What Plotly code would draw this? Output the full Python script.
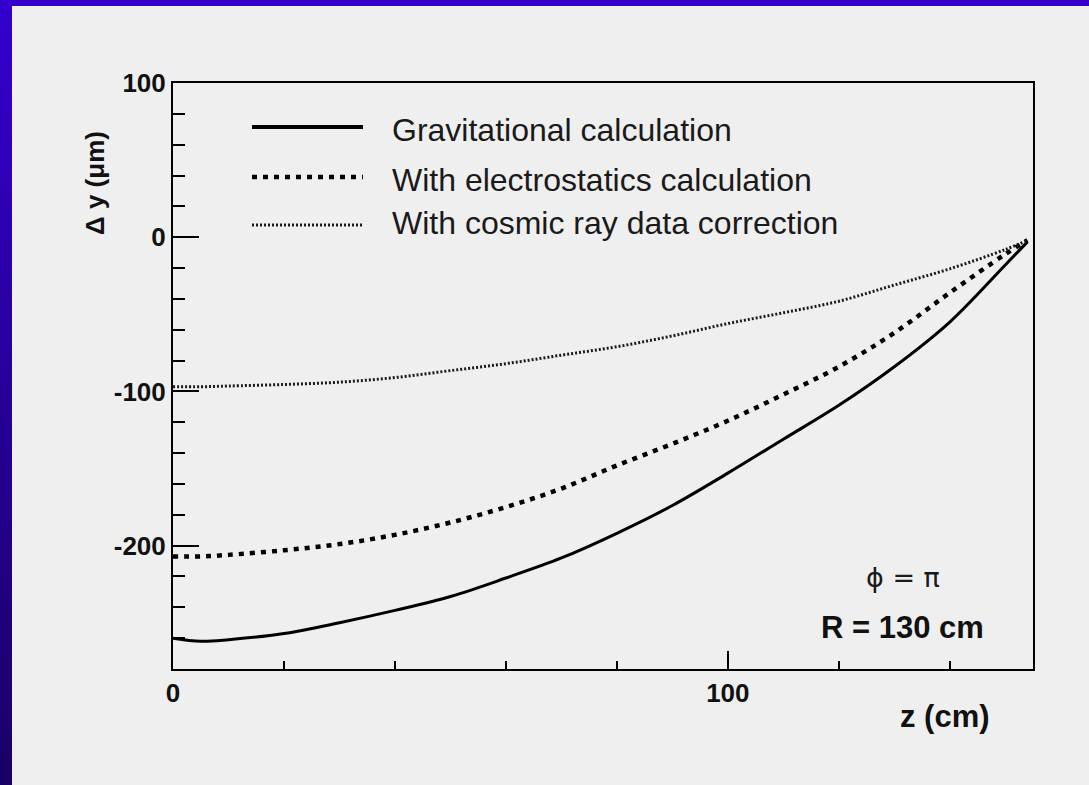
import plotly.graph_objects as go

# ---------------- data ----------------
z_cm = [0, 5, 10, 20, 30, 40, 50, 60, 70, 80, 90, 100, 110, 120, 130, 140, 150, 154]
dy_gravitational = [-260, -262, -261, -257, -250, -242, -233, -221, -208, -192, -174, -153, -131, -109, -84, -55, -18, -3]
dy_electrostatic = [-207, -207, -206, -203, -199, -193, -185, -175, -163, -148, -134, -119, -102, -84, -62, -36, -11, -2]
dy_cosmic = [-97, -97, -96.5, -95.5, -94, -91, -86.5, -82, -76.5, -71, -64, -56, -49, -41.5, -31, -20.5, -8, -2]

series_names = [
    "Gravitational calculation",
    "With electrostatics calculation",
    "With cosmic ray data correction",
]
y_tick_vals = [-200, -100, 0, 100]
y_tick_text = ["-200", "-100", "0", "100"]
x_tick_vals = [0, 100]
x_tick_text = ["0", "100"]

# ---------------- layout helpers ----------------
W, H = 1089, 785
L, R, T, B = 173, 1033, 83, 669  # plot area in pixels


def px(x):
    return (x - L) / (R - L)


def py(y):
    return (B - y) / (B - T)


FONT = "Liberation Sans, Arial, Helvetica, sans-serif"
styles = [
    dict(color="black", width=3, dash="solid"),
    dict(color="black", width=4.5, dash="5px,6px"),
    dict(color="#1a1a1a", width=3, dash="2px,2px"),
]

fig = go.Figure()
for name, ys, st in zip(series_names, [dy_gravitational, dy_electrostatic, dy_cosmic], styles):
    fig.add_trace(go.Scatter(x=z_cm, y=ys, mode="lines", name=name, line=st,
                             line_shape="spline", showlegend=False))

shapes = []
# blue frame: top strip + left strip with vertical gradient
shapes.append(dict(type="rect", xref="paper", yref="paper", x0=px(0), x1=px(W), y0=py(0), y1=py(6),
                   fillcolor="#3300cc", line=dict(width=0), layer="below"))
nb = 30
c0 = (0x33, 0x00, 0xcc)
c1 = (0x1a, 0x00, 0x66)
for i in range(nb):
    f = i / (nb - 1)
    col = "rgb(%d,%d,%d)" % tuple(round(a + (b - a) * f) for a, b in zip(c0, c1))
    y0 = 6 + (H - 6) * i / nb
    y1 = 6 + (H - 6) * (i + 1) / nb + 1
    shapes.append(dict(type="rect", xref="paper", yref="paper", x0=px(0), x1=px(12), y0=py(y0), y1=py(y1),
                       fillcolor=col, line=dict(width=0), layer="below"))

# legend samples
leg_y = [127, 177, 225]
leg_text_y = [130, 180, 223]
leg_styles = [
    dict(color="black", width=4, dash="solid"),
    dict(color="black", width=4.5, dash="5px,6px"),
    dict(color="#1a1a1a", width=3, dash="2px,2px"),
]
for yy, st in zip(leg_y, leg_styles):
    shapes.append(dict(type="line", xref="paper", yref="paper", x0=px(252), x1=px(363), y0=py(yy), y1=py(yy),
                       line=st))

annotations = []
for name, yy in zip(series_names, leg_text_y):
    annotations.append(dict(text=name, xref="paper", yref="paper", x=px(390), y=py(yy), xanchor="left",
                            yanchor="middle", showarrow=False, font=dict(family=FONT, size=32, color="#1a1a1a")))

annotations += [
    dict(text="ϕ = π", xref="paper", yref="paper", x=px(903), y=py(577), xanchor="center", yanchor="middle",
         showarrow=False, font=dict(family="DejaVu Sans, " + FONT, size=27, color="#1a1a1a")),
    dict(text="<b>R = 130 cm</b>", xref="paper", yref="paper", x=px(902), y=py(627), xanchor="center",
         yanchor="middle", showarrow=False, font=dict(family=FONT, size=31, color="#111111")),
    dict(text="<b>z (cm)</b>", xref="paper", yref="paper", x=px(945), y=py(717), xanchor="center",
         yanchor="middle", showarrow=False, font=dict(family=FONT, size=31, color="#111111")),
    dict(text="<b>Δ y (μm)</b>", xref="paper", yref="paper", x=px(95), y=py(183), xanchor="center",
         yanchor="middle", textangle=-90, showarrow=False, font=dict(family=FONT, size=26, color="#111111")),
]

axis_common = dict(showline=True, linecolor="black", linewidth=2, mirror=True, showgrid=False, zeroline=False,
                   ticks="inside", tickcolor="black", tickwidth=2, tickmode="array")

fig.update_layout(
    width=W, height=H,
    margin=dict(l=L, r=W - R, t=T, b=H - B, pad=0),
    paper_bgcolor="#efefef",
    plot_bgcolor="#efefef",
    shapes=shapes,
    annotations=annotations,
    xaxis=dict(range=[0, 155], tickvals=x_tick_vals, ticktext=x_tick_text, ticklen=18,
               tickfont=dict(family=FONT, size=26, color="#111111", weight="bold"),
               minor=dict(tickmode="linear", tick0=0, dtick=20, ticks="inside", ticklen=8, tickwidth=2,
                          tickcolor="black"),
               **axis_common),
    yaxis=dict(range=[-280, 100], tickvals=y_tick_vals, ticktext=y_tick_text, ticklen=26,
               tickfont=dict(family=FONT, size=26, color="#111111", weight="bold"),
               minor=dict(tickmode="linear", tick0=0, dtick=20, ticks="inside", ticklen=12, tickwidth=2,
                          tickcolor="black"),
               **axis_common),
)

fig.write_html("out.html", config={"displayModeBar": False},
               post_script="document.body.style.margin='0px';")
